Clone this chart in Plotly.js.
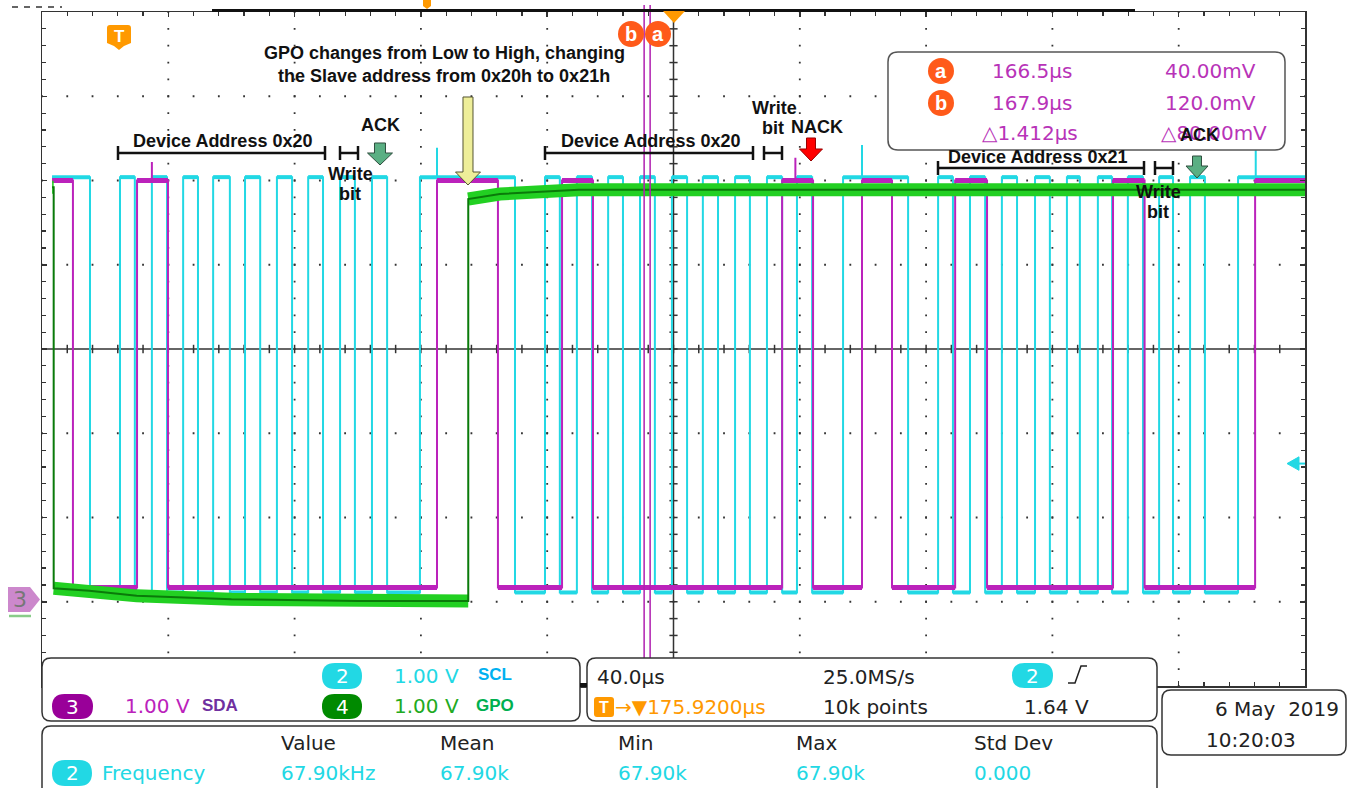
<!DOCTYPE html>
<html><head><meta charset="utf-8">
<script src="https://cdn.plot.ly/plotly-3.0.1.min.js"></script>
<style>html,body{margin:0;padding:0;background:#fff;}#chart{width:1353px;height:788px;}</style>
</head><body><div id="chart"></div>
<script>
// ================= DATA (time in µs relative to screen centre, volts) =================
const timeRangeUs = [-200, 200];          // 40.0 µs/div x 10 div
const voltRange = [-1, 7];                // 1.00 V/div x 8 div
const timeDivUs = 40;
const voltDiv = 1;
const traceStartUs = -196.8;
const traceEndUs = 200;

// SCL (ch2) - starts high, toggles at each edge
const sclStartHigh = true;
const sclEdgesUs = [-184.8, -175.3, -170.6, -165.2, -160.4, -155.3, -150.6, -145.8, -140.5,
  -135.7, -130.9, -125.6, -120.8, -115.7, -111.0, -105.6, -100.9, -95.5, -90.7, -80.3, -50.2,
  -40.7, -36.0, -30.6, -25.8, -20.7, -16.0, -10.6, -5.9, -0.5, 4.3, 9.3, 14.1, 19.5, 24.2,
  29.6, 34.4, 39.1, 43.9, 53.7, 74.3, 83.8, 88.5, 93.9, 98.7, 104.0, 108.8, 114.5, 119.2,
  124.6, 128.7, 134.4, 138.9, 143.9, 148.7, 153.8, 158.2, 163.6, 168.3, 178.8];
const sclHighV = 5.04;
const sclLowV = 0.11;
const sclGlitchUs = [-74.9, 59.7, 184.4];
const sclGlitchTopV = [5.39, 5.42, 5.36];

// SDA (ch3)
const sdaStartHigh = true;
const sdaEdgesUs = [-190.2, -169.9, -160.1, -74.9, -55.6, -35.3, -25.5, 34.4, 44.2, 59.7,
  69.2, 89.2, 99.3, 139.2, 149.2, 184.2];
const sdaHighV = 5.0;
const sdaLowV = 0.17;
const sdaGlitchUs = [-165.2, 38.6];
const sdaGlitchTopV = [5.22, 5.27];

// GPO (ch4) - read point by point
const gpoTimesUs = [-196.8, -196.3, -196.3, -185, -170, -140, -100, -65.0, -65.0, -55, -30, 200];
const gpoVolts   = [4.92, 4.92, 0.16, 0.13, 0.07, 0.03, 0.01, 0.01, 4.78, 4.84, 4.89, 4.89];

// Cursors / trigger
const cursorNames = ['b', 'a'];
const cursorTimesUs = [-9.3, -7.4];
const triggerLevelV = 1.64;

// Readout texts
const chanScale = ['1.00 V', '1.00 V', '1.00 V'];
const chanNames = ['SCL', 'SDA', 'GPO'];
const timebase = '40.0µs';
const sampleRate = '25.0MS/s';
const triggerDelay = '175.9200µs';
const recordLen = '10k points';
const trigLevelText = '1.64 V';
const measHeaders = ['Value', 'Mean', 'Min', 'Max', 'Std Dev'];
const measValues = ['67.90kHz', '67.90k', '67.90k', '67.90k', '0.000'];
const cursorTimes = ['166.5µs', '167.9µs', '△1.412µs'];
const cursorVolts = ['40.00mV', '120.0mV', '△80.00mV'];
const dateText = '6 May  2019';
const timeText = '10:20:03';

// ================= helpers =================
const L = 42, T = 12, R = 1305, B = 686, W = R - L, H = B - T;
const PX = x => (x - L) / W;
const PY = y => (B - y) / H;
const P = (x, y) => PX(x).toFixed(5) + ',' + PY(y).toFixed(5);
const tPaper = t => (t - timeRangeUs[0]) / (timeRangeUs[1] - timeRangeUs[0]);

function steps(startHigh, edges, hi, lo) {
  const x = [traceStartUs], y = [startHigh ? hi : lo];
  let lvl = startHigh;
  edges.forEach(e => { x.push(e); y.push(lvl ? hi : lo); lvl = !lvl; x.push(e); y.push(lvl ? hi : lo); });
  x.push(traceEndUs); y.push(lvl ? hi : lo);
  return { x, y };
}
function band(s) { // horizontal pieces only (noise band look)
  const x = [], y = [];
  for (let i = 0; i < s.x.length - 1; i++) {
    if (s.x[i] === s.x[i + 1]) { x.push(null); y.push(null); continue; }
    x.push(s.x[i], s.x[i + 1]); y.push(s.y[i], s.y[i + 1]);
  }
  return { x, y };
}
function glitches(ts, tops, base) {
  const x = [], y = [];
  ts.forEach((t, i) => { x.push(t, t, null); y.push(base, tops[i], null); });
  return { x, y };
}

const CYAN = '#22d8e4', MAG = '#bb22bb', GDARK = '#0a7a0a', GBRIGHT = '#22d022';
const scl = steps(sclStartHigh, sclEdgesUs, sclHighV, sclLowV);
const sda = steps(sdaStartHigh, sdaEdgesUs, sdaHighV, sdaLowV);
const gpo = { x: gpoTimesUs, y: gpoVolts };
const base = { type: 'scatter', mode: 'lines', hoverinfo: 'skip' };

const traces = [
  Object.assign({}, base, { line: { color: CYAN, width: 4 } }, band(scl)),
  Object.assign({}, base, { line: { color: CYAN, width: 2 } }, scl),
  Object.assign({}, base, { line: { color: CYAN, width: 2 } }, glitches(sclGlitchUs, sclGlitchTopV, sclHighV)),
  Object.assign({}, base, { line: { color: MAG, width: 5 } }, band(sda)),
  Object.assign({}, base, { line: { color: MAG, width: 2 } }, sda),
  Object.assign({}, base, { line: { color: MAG, width: 2 } }, glitches(sdaGlitchUs, sdaGlitchTopV, sdaHighV)),
  Object.assign({}, base, { line: { color: GBRIGHT, width: 13 } }, band(gpo)),
  Object.assign({}, base, { line: { color: GDARK, width: 2 } }, gpo)
];

// ================= shapes =================
const shapes = [];
const line = (x0, y0, x1, y1, color, width, extra) => shapes.push(Object.assign({ type: 'line', xref: 'paper', yref: 'paper', x0: PX(x0), y0: PY(y0), x1: PX(x1), y1: PY(y1), line: { color, width }, layer: 'above' }, extra || {}));
const path = (d, fill, color, width, layer) => shapes.push({ type: 'path', xref: 'paper', yref: 'paper', path: d, fillcolor: fill, line: { color: color, width: width }, layer: layer || 'above' });
function rrect(x0, y0, x1, y1, r) {
  return 'M' + P(x0 + r, y0) + ' L' + P(x1 - r, y0) + ' Q' + P(x1, y0) + ' ' + P(x1, y0 + r) +
    ' L' + P(x1, y1 - r) + ' Q' + P(x1, y1) + ' ' + P(x1 - r, y1) + ' L' + P(x0 + r, y1) +
    ' Q' + P(x0, y1) + ' ' + P(x0, y1 - r) + ' L' + P(x0, y0 + r) + ' Q' + P(x0, y0) + ' ' + P(x0 + r, y0) + ' Z';
}
const poly = pts => 'M' + pts.map(p => P(p[0], p[1])).join(' L') + ' Z';
const circle = (cx, cy, r, fill) => shapes.push({ type: 'circle', xref: 'paper', yref: 'paper', x0: PX(cx - r), x1: PX(cx + r), y0: PY(cy + r), y1: PY(cy - r), fillcolor: fill, line: { width: 0 }, layer: 'above' });

// dotted graticule (dots every 1/5 division)
const subX = W / 50, subY = H / 40, dot = 1.8;
for (let k = 1; k < 10; k++) {
  const xv = timeRangeUs[0] + k * timeDivUs;
  if (k !== 5) shapes.push({ type: 'line', xref: 'x', yref: 'paper', x0: xv, x1: xv, y0: 1 + 0.9 / H, y1: 0, line: { color: '#333', width: 1.8, dash: dot + 'px,' + (subY - dot).toFixed(3) + 'px' }, layer: 'below' });
}
for (let k = 1; k < 8; k++) {
  const yv = voltRange[0] + k * voltDiv;
  if (k !== 4) shapes.push({ type: 'line', xref: 'paper', yref: 'y', x0: -0.9 / W, x1: 1, y0: yv, y1: yv, line: { color: '#333', width: 1.8, dash: dot + 'px,' + (subX - dot).toFixed(3) + 'px' }, layer: 'below' });
}
// centre crosshair with ticks
shapes.push({ type: 'line', xref: 'x', yref: 'paper', x0: 0, x1: 0, y0: 0, y1: 1, line: { color: '#333', width: 1.5 }, layer: 'below' });
shapes.push({ type: 'line', xref: 'paper', yref: 'y', x0: 0, x1: 1, y0: 3, y1: 3, line: { color: '#333', width: 1.5 }, layer: 'below' });
for (let k = 1; k < 50; k++) { const xv = -200 + 8 * k; shapes.push({ type: 'line', xref: 'x', yref: 'y', x0: xv, x1: xv, y0: 2.95, y1: 3.05, line: { color: '#333', width: 1.5 }, layer: 'below' }); }
for (let k = 1; k < 40; k++) { const yv = -1 + 0.2 * k; shapes.push({ type: 'line', xref: 'x', yref: 'y', x0: -1.3, x1: 1.3, y0: yv, y1: yv, line: { color: '#333', width: 1.5 }, layer: 'below' }); }

// cursors
cursorTimesUs.forEach(t => shapes.push({ type: 'line', xref: 'paper', yref: 'paper', x0: tPaper(t), x1: tPaper(t), y0: PY(658), y1: PY(5), line: { color: '#b020b0', width: 1.5 }, layer: 'above' }));

// record bar at top
line(212, 10.5, 1135, 10.5, '#111', 3);
line(12, 7, 62, 7, '#333', 1.5, { line: { color: '#333', width: 1.5, dash: '6px,6px' } });
path(poly([[423, 0], [431, 0], [431, 6], [427, 9], [423, 6]]), '#ff9900', '#ff9900', 0);
// trigger position marker
path(poly([[663, 11], [685, 11], [674, 23]]), '#ff9900', '#ff9900', 0);
// T tag
path('M' + P(110, 25) + ' L' + P(128, 25) + ' Q' + P(131, 25) + ' ' + P(131, 28) + ' L' + P(131, 43) + ' L' + P(124, 46) + ' L' + P(119, 50) + ' L' + P(114, 46) + ' L' + P(107, 43) + ' L' + P(107, 28) + ' Q' + P(107, 25) + ' ' + P(110, 25) + ' Z', '#ff9900', '#ff9900', 0);
// cursor label circles
circle(631, 34, 13, '#ff5a1a');
circle(658, 34, 13, '#ff5a1a');
// channel 3 ground marker
path(poly([[8, 587], [30, 587], [40, 599.5], [30, 612], [8, 612]]), '#cc88cc', '#cc88cc', 0);
line(9, 616, 31, 616, '#88cc88', 2.5);
// trigger level marker (right)
shapes.push({ type: 'path', xref: 'paper', yref: 'y', path: 'M' + PX(1287) + ',' + triggerLevelV + ' L' + PX(1299) + ',' + (triggerLevelV + 0.08) + ' L' + PX(1299) + ',' + (triggerLevelV - 0.08) + ' Z', fillcolor: CYAN, line: { color: CYAN, width: 1 }, layer: 'above' });
shapes.push({ type: 'line', xref: 'paper', yref: 'y', x0: PX(1298), x1: PX(1305), y0: triggerLevelV, y1: triggerLevelV, line: { color: CYAN, width: 2 }, layer: 'above' });

// panels
path(rrect(888, 52, 1285, 150, 10), '#fff', '#555', 1.5);
path(rrect(42, 658, 580, 721, 9), '#fff', '#333', 1.5);
path(rrect(587, 658, 1157, 721, 9), '#fff', '#333', 1.5);
path(rrect(42, 726, 1157, 800, 9), '#fff', '#333', 1.5);
path(rrect(1162, 690, 1346, 755, 9), '#fff', '#333', 1.5);
line(580, 685, 587, 685, '#111', 4);
// pills
path(rrect(322, 663, 362, 689, 13), CYAN, CYAN, 0);
path(rrect(52, 694, 93, 719, 12.5), '#990099', '#990099', 0);
path(rrect(322, 694, 362, 719, 12.5), '#008a00', '#008a00', 0);
path(rrect(1012, 663, 1053, 688, 12.5), CYAN, CYAN, 0);
path(rrect(52, 760, 92, 786, 13), CYAN, CYAN, 0);
path(rrect(594, 697, 614, 717, 3), '#ff9900', '#ff9900', 0);
// rising edge symbol
path('M' + P(1068, 683) + ' L' + P(1075, 683) + ' L' + P(1081, 666) + ' L' + P(1087, 666), 'rgba(0,0,0,0)', '#222', 1.5);

// brackets
function bracket(x0, x1, y) { line(x0, y, x1, y, '#111', 2.5); line(x0, y - 7, x0, y + 7, '#111', 2.5); line(x1, y - 7, x1, y + 7, '#111', 2.5); }
bracket(118, 325, 153); bracket(340, 358, 153);
bracket(545, 753, 153); bracket(764, 782, 153);
bracket(938, 1144, 168); bracket(1155, 1173, 168);
// arrows
function downArrow(cx, top, shaftBot, apex, sw, hw, fill, stroke) {
  path(poly([[cx - sw, top], [cx + sw, top], [cx + sw, shaftBot], [cx + hw, shaftBot], [cx, apex], [cx - hw, shaftBot], [cx - sw, shaftBot]]), fill, stroke, 1);
}
downArrow(380, 143, 153, 165, 5.5, 12.5, '#5aaf83', '#2f4f3f');
downArrow(811, 138, 149, 161, 4.5, 11.5, '#ff0000', '#990000');
downArrow(1197, 156, 166, 178, 4.5, 11, '#5aaf83', '#2f4f3f');
downArrow(468, 97, 172, 185, 5, 12.5, '#eeee99', '#555533');

// ================= annotations =================
const ann = [];
const SC = 'DejaVu Sans';
function txt(s, x, y, size, color, anchor, family) {
  ann.push({ text: s, x: PX(x), y: PY(y), xref: 'paper', yref: 'paper', xanchor: anchor || 'left', yanchor: 'middle', showarrow: false, font: { family: family || SC, size: size, color: color } });
}
const AF = 'Liberation Sans, Arial, sans-serif';
const bold = s => '<b>' + s + '</b>';
txt(bold('GPO changes from Low to High, changing'), 444, 53, 18, '#111', 'center', AF);
txt(bold('the Slave address from 0x20h to 0x21h'), 444, 76, 18, '#111', 'center', AF);
txt(bold('Device Address 0x20'), 223, 141, 18, '#111', 'center', AF);
txt(bold('ACK'), 380, 125, 18, '#111', 'center', AF);
txt(bold('Write'), 350, 174, 18, '#111', 'center', AF);
txt(bold('bit'), 350, 194, 18, '#111', 'center', AF);
txt(bold('Device Address 0x20'), 650, 141, 18, '#111', 'center', AF);
txt(bold('Write'), 774, 108, 18, '#111', 'center', AF);
txt(bold('bit'), 773, 128, 18, '#111', 'center', AF);
txt(bold('NACK'), 817, 127, 18, '#111', 'center', AF);

// cursor readout
circle(941, 71, 13, '#ff5a1a');
circle(941, 103, 13, '#ff5a1a');
txt(bold('a'), 941, 71, 20, '#fff', 'center', AF);
txt(bold('b'), 941, 103, 20, '#fff', 'center', AF);
txt(cursorTimes[0], 990, 71, 20, '#b833b8');
txt(cursorTimes[1], 990, 103, 20, '#b833b8');
txt(cursorTimes[2], 980, 133, 20, '#b833b8');
txt(cursorVolts[0], 1258, 71, 20, '#b833b8', 'right');
txt(cursorVolts[1], 1258, 103, 20, '#b833b8', 'right');
txt(cursorVolts[2], 1269, 133, 20, '#b833b8', 'right');
txt(bold('ACK'), 1199, 135, 18, '#111', 'center', AF);
txt(bold('Device Address 0x21'), 1037, 157, 18, '#111', 'center', AF);
txt(bold('Write'), 1158, 192, 18, '#111', 'center', AF);
txt(bold('bit'), 1158, 212, 18, '#111', 'center', AF);

// top markers text
txt(bold('T'), 119, 36, 17, '#fff', 'center', AF);
txt(bold(cursorNames[0]), 631, 34, 20, '#fff', 'center', AF);
txt(bold(cursorNames[1]), 658, 34, 20, '#fff', 'center', AF);
txt('3', 20, 599.5, 22, '#777', 'center');

// channel panel
txt('2', 342, 676, 20, '#fff', 'center');
txt(chanScale[0], 392, 676, 20, CYAN);
txt(bold(chanNames[0]), 476, 674, 17, '#00b0f0', 'left', AF);
txt('3', 72.5, 706.5, 20, '#fff', 'center');
txt(chanScale[1], 123, 706, 20, MAG);
txt(bold(chanNames[1]), 200, 706, 17, '#7030a0', 'left', AF);
txt('4', 342, 706.5, 20, '#fff', 'center');
txt(chanScale[2], 392, 706, 20, '#22aa22');
txt(bold(chanNames[2]), 474, 706, 17, '#00b050', 'left', AF);
// timebase panel
txt(timebase, 595, 677, 20, '#222');
txt(sampleRate, 821, 677, 20, '#222');
txt('2', 1032.5, 675.5, 20, '#fff', 'center');
txt(bold('T'), 604, 707, 16, '#fff', 'center', AF);
txt('→▼' + triggerDelay, 613, 707, 20, '#ff9900');
txt(recordLen, 821, 707, 20, '#222');
txt(trigLevelText, 1022, 707, 20, '#222');
// measurement panel
const measX = [279, 438, 616, 794, 972];
measHeaders.forEach((h, i) => txt(h, measX[i], 743, 20, '#222'));
measValues.forEach((v, i) => txt(v, measX[i], 773, 20, CYAN));
txt('2', 72, 773, 20, '#fff', 'center');
txt('Frequency', 100, 773, 20, CYAN);
// date panel
txt(dateText, 1341, 709, 20, '#222', 'right');
txt(timeText, 1204, 740, 20, '#222');

// ================= layout =================
const axisCommon = {
  showticklabels: false, zeroline: false, showline: true, linecolor: '#333', linewidth: 1.5,
  mirror: 'allticks', ticks: 'inside', ticklen: 5, tickcolor: '#333', tickwidth: 1.5,
  showgrid: false, fixedrange: true
};
const layout = {
  width: 1353, height: 788,
  margin: { l: L, r: 1353 - R, t: T, b: 788 - B, pad: 0 },
  paper_bgcolor: '#fff', plot_bgcolor: '#fff', showlegend: false,
  xaxis: Object.assign({}, axisCommon, { range: timeRangeUs, tick0: 0, dtick: timeDivUs,
    minor: { dtick: timeDivUs / 5, tick0: 0, ticks: 'inside', ticklen: 4, tickcolor: '#333', tickwidth: 1.2, showgrid: false } }),
  yaxis: Object.assign({}, axisCommon, { range: voltRange, tick0: 0, dtick: voltDiv,
    minor: { dtick: voltDiv / 5, tick0: 0, ticks: 'inside', ticklen: 4, tickcolor: '#333', tickwidth: 1.2, showgrid: false } }),
  shapes: shapes, annotations: ann
};
Plotly.newPlot('chart', traces, layout, { staticPlot: true, displayModeBar: false });
</script></body></html>
